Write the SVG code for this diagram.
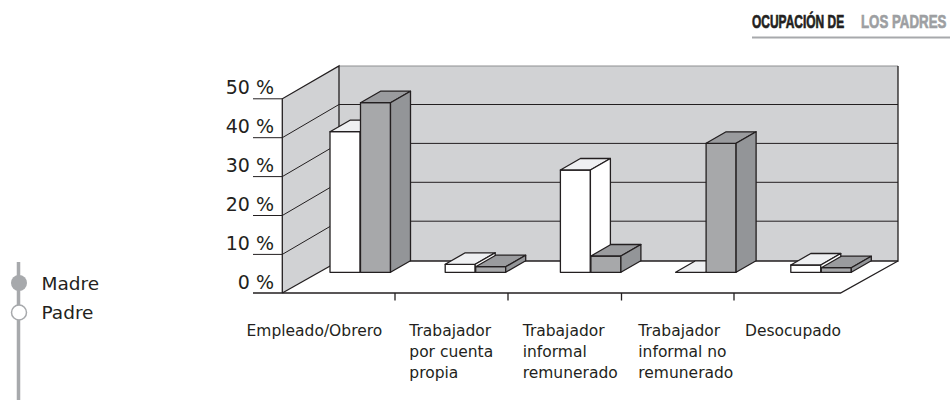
<svg xmlns="http://www.w3.org/2000/svg" width="950" height="400" viewBox="0 0 950 400">
<style>
.ln{stroke:#231f20;stroke-width:1.3;fill:none}
.grid{stroke:#231f20;stroke-width:1;fill:none}
.wall{fill:#d1d2d4;stroke:none}
.wf{fill:#ffffff;stroke:#231f20;stroke-width:1.3;stroke-linejoin:round}
.wt{fill:#eff0f2;stroke:#231f20;stroke-width:1.3;stroke-linejoin:round}
.gf{fill:#a7a8aa;stroke:#231f20;stroke-width:1.3;stroke-linejoin:round}
.gs{fill:#939598;stroke:#231f20;stroke-width:1.3;stroke-linejoin:round}
.gt{fill:#9a9b9e;stroke:#231f20;stroke-width:1.3;stroke-linejoin:round}
.ax{font-family:"DejaVu Sans","Liberation Sans",sans-serif;font-size:19px;fill:#231f20;text-anchor:end}
.cat{font-family:"DejaVu Sans","Liberation Sans",sans-serif;font-size:15.5px;fill:#231f20}
.leg{font-family:"DejaVu Sans","Liberation Sans",sans-serif;font-size:18.5px;fill:#231f20}
.ttl{font-family:"Liberation Sans",Arial,sans-serif;font-size:19px;font-weight:bold;stroke-width:0.7}
</style>

<g id="title">
  <text class="ttl" transform="translate(752,27.5) scale(0.63,1)" x="0" y="0" fill="#231f20" stroke="#231f20">OCUPACIÓN DE</text>
  <text class="ttl" transform="translate(861,27.5) scale(0.7,1)" x="0" y="0" fill="#9d9fa2" stroke="#9d9fa2">LOS PADRES</text>
  <line x1="752" y1="37.5" x2="950" y2="37.5" stroke="#a7a9ac" stroke-width="2"/>
</g>

<g id="chart-frame">
  <polygon class="wall" points="282.3,98.8 339,66 339,261 282.3,293"/>
  <rect class="wall" x="339" y="66" width="559" height="195"/>
  <line x1="339" y1="66" x2="898" y2="66" stroke="#8e8f91" stroke-width="1"/>
  <g class="grid">
    <line x1="339" y1="104.5" x2="898" y2="104.5"/>
    <line x1="339" y1="143.4" x2="898" y2="143.4"/>
    <line x1="339" y1="182.3" x2="898" y2="182.3"/>
    <line x1="339" y1="221.2" x2="898" y2="221.2"/>
    <line x1="282.3" y1="137.7" x2="339" y2="104.5"/>
    <line x1="282.3" y1="176.6" x2="339" y2="143.4"/>
    <line x1="282.3" y1="215.5" x2="339" y2="182.3"/>
    <line x1="282.3" y1="254.4" x2="339" y2="221.2"/>
    <line x1="253" y1="98.8" x2="282.3" y2="98.8"/>
    <line x1="253" y1="137.7" x2="282.3" y2="137.7"/>
    <line x1="253" y1="176.6" x2="282.3" y2="176.6"/>
    <line x1="253" y1="215.5" x2="282.3" y2="215.5"/>
    <line x1="253" y1="254.4" x2="282.3" y2="254.4"/>
  </g>
  <g class="ln">
    <polyline points="282.3,293 282.3,98.8 339,66 339,261 898,261 898,66"/>
    <polyline points="253,293 840.5,293 898,261"/>
    <line x1="282.3" y1="293" x2="339" y2="261"/>
    <line x1="395" y1="293" x2="395" y2="300.5"/>
    <line x1="508" y1="293" x2="508" y2="300.5"/>
    <line x1="621.5" y1="293" x2="621.5" y2="300.5"/>
    <line x1="734" y1="293" x2="734" y2="300.5"/>
  </g>
  <g id="y-labels">
    <text class="ax" x="274" y="94.3">50 %</text>
    <text class="ax" x="274" y="133.2">40 %</text>
    <text class="ax" x="274" y="172.1">30 %</text>
    <text class="ax" x="274" y="211">20 %</text>
    <text class="ax" x="274" y="249.9">10 %</text>
    <text class="ax" x="274" y="288.6">0 %</text>
  </g>
</g>

<g id="cat-empleado">
  <rect class="wf" x="330" y="131.7" width="30" height="140.6"/>
  <polygon class="wt" points="330,131.7 350,120.2 380,120.2 360,131.7"/>
  <rect class="gf" x="360.5" y="102.7" width="30" height="169.6"/>
  <polygon class="gt" points="360.5,102.7 380.5,91.2 410.5,91.2 390.5,102.7"/>
  <polygon class="gs" points="390.5,102.7 410.5,91.2 410.5,260.8 390.5,272.3"/>
  <text class="cat" x="246.5" y="336">Empleado/Obrero</text>
</g>

<g id="cat-cuenta-propia">
  <rect class="wf" x="445.2" y="264.3" width="30" height="8"/>
  <polygon class="wt" points="445.2,264.3 465.2,252.8 495.2,252.8 475.2,264.3"/>
  <polygon class="wf" points="475.2,264.3 495.2,252.8 495.2,260.8 475.2,272.3"/>
  <rect class="gf" x="475.7" y="266.7" width="30" height="5.6"/>
  <polygon class="gt" points="475.7,266.7 495.7,255.2 525.7,255.2 505.7,266.7"/>
  <polygon class="gs" points="505.7,266.7 525.7,255.2 525.7,260.8 505.7,272.3"/>
  <text class="cat" x="409.3" y="336">Trabajador</text>
  <text class="cat" x="409.3" y="357">por cuenta</text>
  <text class="cat" x="409.3" y="378">propia</text>
</g>

<g id="cat-informal-remunerado">
  <rect class="wf" x="560.4" y="170" width="30" height="102.3"/>
  <polygon class="wt" points="560.4,170 580.4,158.5 610.4,158.5 590.4,170"/>
  <polygon class="wf" points="590.4,170 610.4,158.5 610.4,260.8 590.4,272.3"/>
  <rect class="gf" x="590.9" y="256" width="30" height="16.3"/>
  <polygon class="gt" points="590.9,256 610.9,244.5 640.9,244.5 620.9,256"/>
  <polygon class="gs" points="620.9,256 640.9,244.5 640.9,260.8 620.9,272.3"/>
  <text class="cat" x="522.7" y="336">Trabajador</text>
  <text class="cat" x="522.7" y="357">informal</text>
  <text class="cat" x="522.7" y="378">remunerado</text>
</g>

<g id="cat-informal-no-remunerado">
  <polygon class="wt" points="675.6,272.3 695.6,260.8 725.6,260.8 705.6,272.3"/>
  <rect class="gf" x="706.1" y="143.3" width="30" height="129"/>
  <polygon class="gt" points="706.1,143.3 726.1,131.8 756.1,131.8 736.1,143.3"/>
  <polygon class="gs" points="736.1,143.3 756.1,131.8 756.1,260.8 736.1,272.3"/>
  <text class="cat" x="638.3" y="336">Trabajador</text>
  <text class="cat" x="638.3" y="357">informal no</text>
  <text class="cat" x="638.3" y="378">remunerado</text>
</g>

<g id="cat-desocupado">
  <rect class="wf" x="790.8" y="265" width="30" height="7.3"/>
  <polygon class="wt" points="790.8,265 810.8,253.5 840.8,253.5 820.8,265"/>
  <polygon class="wf" points="820.8,265 840.8,253.5 840.8,260.8 820.8,272.3"/>
  <rect class="gf" x="821.3" y="267.7" width="30" height="4.6"/>
  <polygon class="gt" points="821.3,267.7 841.3,256.2 871.3,256.2 851.3,267.7"/>
  <polygon class="gs" points="851.3,267.7 871.3,256.2 871.3,260.8 851.3,272.3"/>
  <text class="cat" x="745" y="336">Desocupado</text>
</g>

<g id="legend">
  <line x1="18.5" y1="262" x2="18.5" y2="400" stroke="#a7a9ac" stroke-width="3.5"/>
  <g id="legend-madre">
    <circle cx="19" cy="283" r="8" fill="#a7a9ac"/>
    <text class="leg" x="41.5" y="290">Madre</text>
  </g>
  <g id="legend-padre">
    <circle cx="19" cy="312.5" r="7.5" fill="#ffffff" stroke="#a7a9ac" stroke-width="1.5"/>
    <text class="leg" x="41.5" y="319.3">Padre</text>
  </g>
</g>
</svg>
